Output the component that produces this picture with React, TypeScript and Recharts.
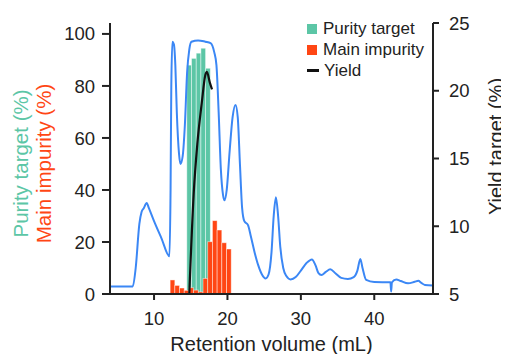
import { ComposedChart, Bar, Line, XAxis, YAxis, Legend } from "recharts";

// collected fractions (centre of each fraction, mL)
const fractionVolume = [12.4, 13.04, 13.68, 14.32, 14.96, 15.6, 16.24, 16.88, 17.52, 18.16, 18.8, 19.44, 20.08];
const purityTarget = [null, null, null, null, 88, 90.6, 92.6, 94.5, 86.8, null, null, null, null];
const mainImpurity = [5.4, 3.3, 2.3, 1.4, 2.4, 1.5, 0.8, 6.0, 20.1, 28.2, 24.6, 19.7, 17.3];

// UV trace
const traceVolume = [
  4, 7.1, 7.5, 8.0, 8.3, 8.6, 9.0, 9.3, 10, 11, 12.1, 12.25, 12.35, 12.5, 12.7, 12.9, 13.1, 13.4, 13.6,
  13.9, 14.2, 14.5, 14.8, 15.1, 16, 17, 17.7, 18.2, 18.5, 18.8, 19.1, 19.4, 19.6, 19.9, 20.3, 20.7, 21.1,
  21.4, 21.7, 22.0, 22.3, 22.8, 23.2, 23.7, 24.2, 24.7, 25.2, 25.6, 26.0, 26.3, 26.6, 26.9, 27.2, 27.6,
  28.0, 28.6, 29.3, 30.0, 30.8, 31.5, 32, 32.4, 32.8, 33.4, 34.0, 34.7, 35.5, 36.4, 37.2, 37.7, 38.1,
  38.4, 38.9, 40, 42.2, 42.3, 42.4, 43, 43.6, 44.6, 45.5, 46, 46.4, 46.9, 48,
];
const traceSignal = [
  2.9, 2.9, 10, 27, 31.5, 33, 35, 33, 28, 21.5, 14.5, 40, 80, 97, 96, 88, 70, 54, 50,
  53, 65, 85, 94, 97, 97.5, 97, 96.5, 93, 88, 70, 48, 38, 36, 40, 55, 68, 72.7,
  68, 50, 33, 28, 26.5, 22, 16, 11, 7.5, 6, 7.5, 16, 30, 37.2, 30, 18, 10,
  7, 5.6, 6.5, 9, 12, 13.3, 11, 8, 7.3, 8.5, 9.5, 8, 6.2, 5.8, 6.5, 9, 13.5,
  10, 5.4, 4.6, 4.5, 1, 4.5, 5.6, 5, 4.1, 4.7, 5.1, 4.3, 3.5, 3.3,
];

// cumulative yield
const yieldVolume = [14.8, 15.4, 15.9, 16.5, 17.0, 17.2, 17.6, 17.9];
const yieldValue = [5, 12.4, 16.1, 19.1, 21.2, 21.4, 20.6, 20.1];

const xTicks = [10, 20, 30, 40];
const pctTicks = [0, 20, 40, 60, 80, 100];
const yieldTicks = [5, 10, 15, 20, 25];

const fractions = fractionVolume.map((v, i) => ({
  x: v,
  purity: purityTarget[i],
  impurity: mainImpurity[i],
}));
const trace = traceVolume.map((v, i) => ({ x: v, signal: traceSignal[i] }));
const yieldCurve = yieldVolume.map((v, i) => ({ x: v, yield: yieldValue[i] }));

const GREEN = "#5cc6a6";
const RED = "#ff4614";
const BLUE = "#3b87f5";
const INK = "#222";
const FRACTION_WIDTH = 4.7;

const axisStyle = { stroke: INK, strokeWidth: 2 };
const tickStyle = { fontSize: 18.5, fill: INK };

// fraction bar: keep the library's centre and height, fixed fraction width
const FractionBar = ({ x, y, width, height, fill }: any) => {
  if (!height || height <= 0) return null;
  const cx = x + width / 2;
  return (
    <rect
      x={cx - FRACTION_WIDTH / 2}
      y={y}
      width={FRACTION_WIDTH}
      height={height}
      fill={fill}
      stroke="rgba(255,255,255,0.55)"
      strokeWidth={0.8}
    />
  );
};

const LeftTitle = ({ viewBox }: any) => {
  const cy = viewBox.y + viewBox.height / 2 + 5;
  const gx = viewBox.x + 12;
  const rx = viewBox.x + 35;
  return (
    <g>
      <text x={gx} y={cy} transform={`rotate(-90 ${gx} ${cy})`} textAnchor="middle" dominantBaseline="central" fontSize={20.5} fill={GREEN}>
        Purity target (%)
      </text>
      <text x={rx} y={cy} transform={`rotate(-90 ${rx} ${cy})`} textAnchor="middle" dominantBaseline="central" fontSize={20.5} fill={RED}>
        Main impurity (%)
      </text>
    </g>
  );
};

const RightTitle = ({ viewBox }: any) => {
  const cx = viewBox.x + 63;
  const cy = viewBox.y + viewBox.height / 2 - 12;
  return (
    <text x={cx} y={cy} transform={`rotate(-90 ${cx} ${cy})`} textAnchor="middle" dominantBaseline="central" fontSize={20} fill={INK}>
      Yield target (%)
    </text>
  );
};

const legendOrder = ["Purity target", "Main impurity", "Yield"];

const renderLegend = ({ payload }: any) => {
  const items = [...(payload || [])]
    .filter((p: any) => legendOrder.includes(p.value))
    .sort((a: any, b: any) => legendOrder.indexOf(a.value) - legendOrder.indexOf(b.value));
  return (
    <div>
      {items.map((entry: any) => (
        <div key={entry.value} style={{ display: "flex", alignItems: "center", height: 21, fontSize: 17, color: INK, whiteSpace: "nowrap" }}>
          {entry.type === "plainline" ? (
            <span style={{ display: "inline-block", width: 12, height: 2.5, background: entry.color, marginRight: 5 }} />
          ) : (
            <span style={{ display: "inline-block", width: 10, height: 10, background: entry.color, marginRight: 6 }} />
          )}
          {entry.value}
        </div>
      ))}
    </div>
  );
};

export default function App() {
  return (
    <div style={{ width: 501, height: 346, fontFamily: "'Liberation Sans', Arial, sans-serif" }}>
      <ComposedChart width={501} height={346} data={fractions} margin={{ top: 15, right: 0, bottom: 0, left: 0 }}>
        <XAxis
          xAxisId="trace"
          type="number"
          dataKey="x"
          domain={[4, 48]}
          allowDataOverflow
          ticks={xTicks}
          height={60}
          tickSize={6}
          tickMargin={12}
          axisLine={axisStyle}
          tickLine={axisStyle}
          tick={tickStyle}
          label={{ value: "Retention volume (mL)", position: "insideBottom", offset: 3, fontSize: 20, fill: INK }}
        />
        <XAxis xAxisId="frac" orientation="top" height={0} type="number" dataKey="x" domain={[4, 48]} allowDataOverflow hide />
        <YAxis
          yAxisId="pct"
          domain={[0, 104.2]}
          allowDataOverflow
          ticks={pctTicks}
          width={102}
          tickSize={8}
          tickMargin={7}
          axisLine={axisStyle}
          tickLine={axisStyle}
          tick={tickStyle}
          label={LeftTitle}
        />
        <YAxis
          yAxisId="yield"
          orientation="right"
          domain={[5, 25]}
          allowDataOverflow
          ticks={yieldTicks}
          width={76}
          tickSize={6}
          tickMargin={10}
          axisLine={axisStyle}
          tickLine={axisStyle}
          tick={tickStyle}
          label={RightTitle}
        />
        <Legend
          layout="vertical"
          align="center"
          verticalAlign="middle"
          content={renderLegend}
          wrapperStyle={{ top: 10, left: 299, width: "auto", height: "auto" }}
        />
        <Bar
          xAxisId="frac"
          yAxisId="pct"
          dataKey="purity"
          name="Purity target"
          fill={GREEN}
          barSize={4}
          shape={FractionBar}
          isAnimationActive={false}
        />
        <Bar
          xAxisId="frac"
          yAxisId="pct"
          dataKey="impurity"
          name="Main impurity"
          fill={RED}
          barSize={4}
          shape={FractionBar}
          isAnimationActive={false}
        />
        <Line
          xAxisId="trace"
          yAxisId="pct"
          data={trace}
          dataKey="signal"
          type="monotone"
          stroke={BLUE}
          strokeWidth={2}
          dot={false}
          legendType="none"
          isAnimationActive={false}
        />
        <Line
          xAxisId="trace"
          yAxisId="yield"
          data={yieldCurve}
          dataKey="yield"
          name="Yield"
          type="monotone"
          stroke="#111"
          strokeWidth={2.2}
          dot={false}
          legendType="plainline"
          isAnimationActive={false}
        />
      </ComposedChart>
    </div>
  );
}
